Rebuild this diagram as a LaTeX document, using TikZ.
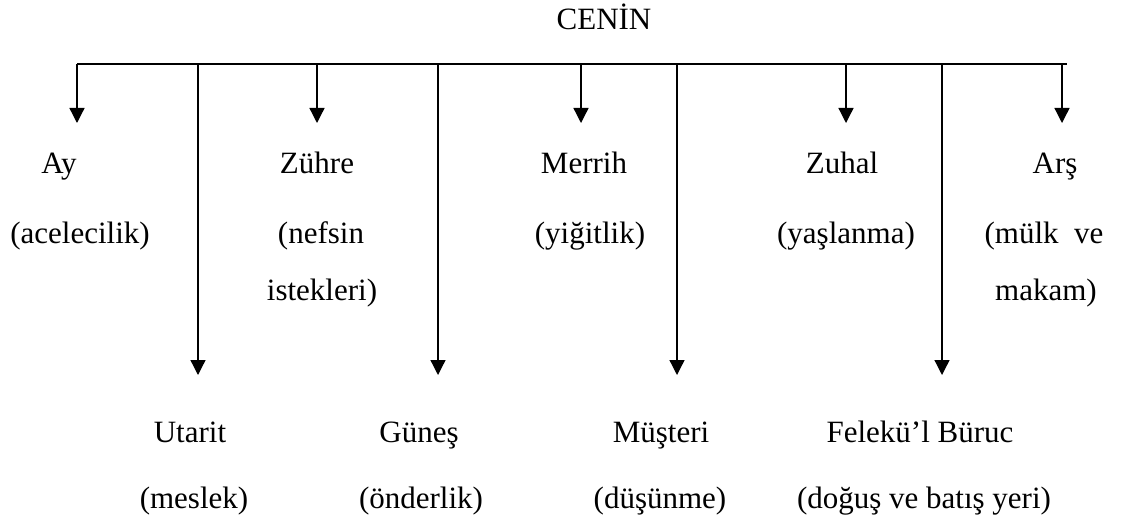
\documentclass[tikz,border=0pt]{standalone}
\usepackage{fontspec}
\setmainfont{Liberation Serif}
\usetikzlibrary{arrows.meta}
\begin{document}
\begin{tikzpicture}[x=1pt,y=-1pt,
  lbl/.style={anchor=base,inner sep=0pt,font=\fontsize{31}{37}\selectfont},
  bus/.style={line width=1.3pt},
  arr/.style={line width=1.3pt,-{Triangle[width=15pt,length=15pt]}}]
\useasboundingbox (0,0) rectangle (1121,524);
% title
\node[lbl] (cenin) at (604,30) {CENİN};
% bus
\coordinate (busL) at (77,64);
\coordinate (busR) at (1067,64);
\draw[bus] (busL) -- (busR);
% branch points on the bus and arrow tips
\foreach \n/\x/\y in {ay/77/123, utarit/198/375, zuhre/317/123, gunes/438/375,
  merrih/581/123, musteri/677/375, zuhal/846/123, felek/942/375, ars/1062/123}{
  \coordinate (top-\n) at (\x,64);
  \coordinate (tip-\n) at (\x,\y);
  \draw[arr] (top-\n) -- (tip-\n);
}
% upper labels
\node[lbl] (ay) at (59,173) {Ay};
\node[lbl] (acel) at (80,243) {(acelecilik)};
\node[lbl] (zuhre) at (317,173) {Zühre};
\node[lbl] (nefsin) at (321,243) {(nefsin};
\node[lbl] (istek) at (322,300) {istekleri)};
\node[lbl] (merrih) at (584,173) {Merrih};
\node[lbl] (yigit) at (590,243) {(yiğitlik)};
\node[lbl] (zuhal) at (842,173) {Zuhal};
\node[lbl] (yasl) at (846,243) {(yaşlanma)};
\node[lbl] (ars) at (1055,173) {Arş};
\node[lbl] (mulk) at (1044,243) {(mülk\hspace{0.5em}ve};
\node[lbl] (makam) at (1046,300) {makam)};
% lower labels
\node[lbl] (utarit) at (190,442) {Utarit};
\node[lbl] (meslek) at (194,508) {(meslek)};
\node[lbl] (gunes) at (419,442) {Güneş};
\node[lbl] (onder) at (421,508) {(önderlik)};
\node[lbl] (musteri) at (661,442) {Müşteri};
\node[lbl] (dusun) at (660,508) {(düşünme)};
\node[lbl] (felek) at (920,442) {Felekü’l Büruc};
\node[lbl] (dogus) at (924,508) {(doğuş ve batış yeri)};
\end{tikzpicture}
\end{document}
